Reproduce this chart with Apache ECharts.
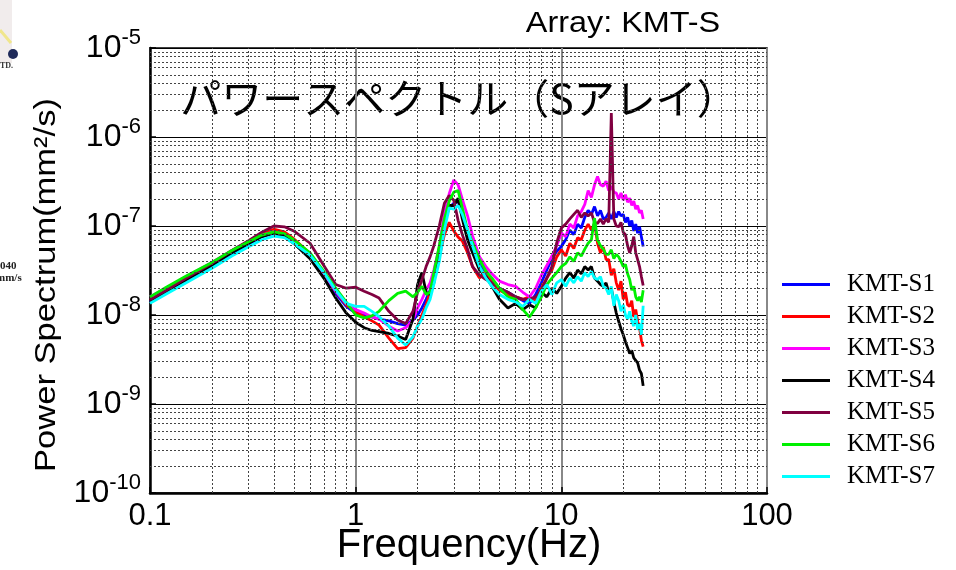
<!DOCTYPE html>
<html><head><meta charset="utf-8">
<script src="https://cdn.jsdelivr.net/npm/echarts@6/dist/echarts.min.js"></script>
<style>html,body{margin:0;padding:0;background:#fff}#c{width:956px;height:570px}</style>
</head><body><div id="c"></div>
<script>
// ---- data ----
const freq = [0.1,0.12,0.15,0.2,0.25,0.3,0.35,0.4,0.45,0.5,
  0.6,0.7,0.8,0.9,1.0,1.1,1.2,1.3,1.45,1.6,
  1.75,1.9,2.0,2.1,2.2,2.3,2.4,2.55,2.7,2.85,
  3.0,3.15,3.3,3.5,3.7,4.0,4.3,4.6,5.0,
  5.5,6.0,6.5,7.0,7.5,8.0,8.5,9.0,9.5,10,
  10.5,11,11.5,12,12.5,13,13.5,14,14.5,15,
  15.5,16,16.5,17,17.5,18,18.5,19,19.5,20,
  20.5,21,21.5,22,22.5,23,23.5,24,24.5,25];

const s1 = [1.4e-8,1.8e-8,2.4e-8,3.5e-8,4.9e-8,6.2e-8,7.6e-8,8.3e-8,7.6e-8,6.4e-8,
  4.5e-8,2.8e-8,1.75e-8,1.25e-8,1.05e-8,1.0e-8,9.5e-9,9.0e-9,8.6e-9,8.0e-9,
  7.7e-9,8.8e-9,1.0e-8,1.2e-8,1.5e-8,1.9e-8,2.8e-8,4.8e-8,1.1e-7,1.6e-7,
  1.8e-7,1.9e-7,1.3e-7,8.5e-8,6.0e-8,3.8e-8,3.0e-8,2.5e-8,2.0e-8,
  1.8e-8,1.6e-8,1.45e-8,1.35e-8,1.7e-8,2.3e-8,3.2e-8,4.3e-8,5.2e-8,5.9e-8,
  7.0e-8,9.0e-8,8.0e-8,1.05e-7,9.5e-8,1.25e-7,1.5e-7,1.35e-7,1.65e-7,1.3e-7,
  1.5e-7,1.2e-7,1.25e-7,1.4e-7,1.2e-7,1.45e-7,1.25e-7,1.45e-7,1.3e-7,1.35e-7,
  1.1e-7,1.25e-7,1.0e-7,1.15e-7,8.8e-8,1.05e-7,8.3e-8,9.8e-8,1.0e-7,5.9e-8];

const s2 = [1.45e-8,1.85e-8,2.5e-8,3.7e-8,5.2e-8,6.7e-8,8.2e-8,9.2e-8,8.6e-8,7.2e-8,
  4.9e-8,3.0e-8,1.85e-8,1.3e-8,1.1e-8,9.5e-9,8.6e-9,7.7e-9,5.5e-9,4.2e-9,
  4.3e-9,5.5e-9,7.5e-9,1.0e-8,1.3e-8,1.8e-8,2.5e-8,4.5e-8,8.0e-8,1.1e-7,
  8.8e-8,7.5e-8,6.8e-8,5.0e-8,3.5e-8,2.6e-8,3.2e-8,2.3e-8,1.9e-8,
  1.7e-8,1.6e-8,1.5e-8,1.6e-8,1.45e-8,2.0e-8,2.6e-8,3.2e-8,4.5e-8,5.4e-8,
  4.6e-8,6.4e-8,5.6e-8,7.4e-8,7.0e-8,9.0e-8,1.05e-7,9.0e-8,1.07e-7,6.4e-8,
  5.0e-8,5.8e-8,4.2e-8,4.2e-8,2.8e-8,3.3e-8,2.3e-8,1.9e-8,2.4e-8,1.5e-8,
  1.8e-8,1.3e-8,1.25e-8,1.45e-8,9.5e-9,1.15e-8,8.5e-9,7.2e-9,5.2e-9,4.4e-9];

const s3 = [1.6e-8,2.0e-8,2.7e-8,3.9e-8,5.3e-8,6.6e-8,7.9e-8,8.6e-8,8.0e-8,6.7e-8,
  4.6e-8,2.9e-8,1.85e-8,1.35e-8,1.15e-8,1.05e-8,9.5e-9,9.0e-9,7.5e-9,6.6e-9,
  7.2e-9,8.8e-9,1.2e-8,1.5e-8,1.9e-8,2.3e-8,3.2e-8,5.8e-8,1.4e-7,2.3e-7,
  3.3e-7,2.9e-7,2.0e-7,1.3e-7,7.8e-8,4.5e-8,3.5e-8,2.9e-8,2.4e-8,
  2.2e-8,2.1e-8,1.8e-8,1.6e-8,2.0e-8,2.8e-8,3.6e-8,4.6e-8,6.0e-8,8.3e-8,
  7.6e-8,1.05e-7,9.5e-8,1.3e-7,1.45e-7,1.75e-7,2.5e-7,2.1e-7,2.9e-7,3.6e-7,
  2.9e-7,2.8e-7,3.2e-7,2.5e-7,2.8e-7,2.4e-7,2.35e-7,2.0e-7,2.35e-7,1.95e-7,
  2.25e-7,1.85e-7,2.05e-7,1.7e-7,1.9e-7,1.55e-7,1.7e-7,1.4e-7,1.5e-7,1.2e-7];

const s4 = [1.45e-8,1.85e-8,2.5e-8,3.6e-8,5.0e-8,6.3e-8,7.6e-8,8.3e-8,7.7e-8,6.4e-8,
  4.3e-8,2.6e-8,1.55e-8,1.05e-8,8.3e-9,7.2e-9,6.7e-9,6.5e-9,6.2e-9,5.8e-9,
  5.3e-9,9.0e-9,2.2e-8,3.0e-8,1.8e-8,1.7e-8,2.3e-8,5.4e-8,1.1e-7,1.7e-7,
  1.7e-7,2.05e-7,1.2e-7,7.0e-8,5.0e-8,3.2e-8,2.7e-8,2.1e-8,1.5e-8,
  1.2e-8,1.35e-8,1.15e-8,1.3e-8,1.2e-8,1.8e-8,1.6e-8,2.0e-8,1.75e-8,2.1e-8,
  2.6e-8,3.0e-8,2.6e-8,3.2e-8,2.9e-8,3.5e-8,3.2e-8,3.5e-8,2.6e-8,2.4e-8,
  2.2e-8,2.1e-8,2.3e-8,1.8e-8,2.0e-8,1.4e-8,1.05e-8,8.5e-9,7.0e-9,6.0e-9,
  5.0e-9,4.3e-9,3.7e-9,4.0e-9,3.3e-9,3.2e-9,2.9e-9,2.4e-9,2.2e-9,1.6e-9];

const s5 = [1.48e-8,1.9e-8,2.6e-8,3.8e-8,5.3e-8,6.8e-8,8.5e-8,1.0e-7,9.8e-8,8.8e-8,
  6.4e-8,3.6e-8,2.2e-8,2.0e-8,2.05e-8,1.85e-8,1.7e-8,1.55e-8,1.1e-8,8.8e-9,
  8.0e-9,1.1e-8,1.8e-8,2.5e-8,3.5e-8,4.5e-8,6.0e-8,1.0e-7,1.8e-7,2.2e-7,
  1.95e-7,1.15e-7,8.0e-8,5.5e-8,3.5e-8,2.8e-8,2.5e-8,2.3e-8,2.0e-8,
  1.8e-8,1.6e-8,1.5e-8,1.5e-8,1.6e-8,1.9e-8,2.6e-8,3.5e-8,6.5e-8,9.5e-8,
  1.05e-7,1.2e-7,1.35e-7,1.5e-7,1.25e-7,1.4e-7,1.3e-7,1.4e-7,1.1e-7,1.07e-7,
  1.2e-7,1.05e-7,1.2e-7,1.1e-7,1.86e-6,1.2e-7,1.0e-7,9.8e-8,1.1e-7,8.5e-8,
  8.0e-8,6.0e-8,5.0e-8,6.0e-8,7.6e-8,5.0e-8,4.2e-8,3.5e-8,2.7e-8,2.15e-8];

const s6 = [1.6e-8,2.05e-8,2.75e-8,3.9e-8,5.3e-8,6.6e-8,7.9e-8,8.6e-8,8.2e-8,7.0e-8,
  5.0e-8,3.1e-8,2.0e-8,1.4e-8,1.0e-8,9.3e-9,9.8e-9,1.1e-8,1.45e-8,1.75e-8,
  1.85e-8,1.6e-8,1.8e-8,2.1e-8,1.7e-8,1.8e-8,3.0e-8,6.0e-8,1.2e-7,1.9e-7,
  2.4e-7,2.5e-7,1.6e-7,9.0e-8,6.5e-8,4.2e-8,3.1e-8,2.6e-8,2.0e-8,
  1.6e-8,1.5e-8,1.15e-8,9.5e-9,1.2e-8,1.6e-8,2.2e-8,2.6e-8,3.0e-8,3.5e-8,
  3.8e-8,4.5e-8,4.0e-8,5.0e-8,4.6e-8,5.5e-8,6.4e-8,7.0e-8,1.22e-7,7.0e-8,
  6.0e-8,5.5e-8,4.8e-8,4.8e-8,5.4e-8,4.3e-8,4.8e-8,4.5e-8,4.0e-8,3.5e-8,
  3.7e-8,2.9e-8,2.5e-8,1.9e-8,2.1e-8,1.6e-8,1.45e-8,1.6e-8,1.4e-8,1.9e-8];

const s7 = [1.35e-8,1.72e-8,2.3e-8,3.35e-8,4.6e-8,5.8e-8,7.0e-8,7.7e-8,7.4e-8,6.4e-8,
  4.7e-8,3.0e-8,1.9e-8,1.35e-8,1.25e-8,1.25e-8,1.1e-8,9.6e-9,7.5e-9,5.5e-9,
  4.6e-9,5.7e-9,7.5e-9,9.0e-9,1.2e-8,1.5e-8,2.2e-8,4.0e-8,9.0e-8,1.6e-7,
  1.55e-7,1.7e-7,1.35e-7,9.0e-8,6.0e-8,3.5e-8,2.6e-8,2.1e-8,1.7e-8,
  1.5e-8,1.4e-8,1.25e-8,1.5e-8,1.35e-8,1.85e-8,2.2e-8,1.7e-8,2.3e-8,2.5e-8,
  2.1e-8,2.6e-8,2.3e-8,2.7e-8,2.4e-8,3.0e-8,2.7e-8,3.1e-8,2.6e-8,2.5e-8,
  2.7e-8,2.1e-8,2.0e-8,1.7e-8,2.1e-8,1.27e-8,1.7e-8,1.45e-8,1.1e-8,1.3e-8,
  1.0e-8,9.0e-9,1.1e-8,8.5e-9,7.5e-9,1.0e-8,6.8e-9,8.0e-9,6.0e-9,1.27e-8];

const seriesNames = ['KMT-S1','KMT-S2','KMT-S3','KMT-S4','KMT-S5','KMT-S6','KMT-S7'];
const seriesValues = [s1, s2, s3, s4, s5, s6, s7];
const seriesColors = ['#0000ff','#ff0000','#ff00ff','#000000','#800040','#00f000','#00ffff'];
const xTickLabels = ['0.1','1','10','100'];
const yTickExponents = [-10,-9,-8,-7,-6,-5];
const xMinorDecades = [0.1, 1, 10];
const yMinorDecades = [1e-10, 1e-9, 1e-8, 1e-7, 1e-6];
const xRange = [0.1, 100];
const yRange = [1e-10, 1e-5];

// ---- chart ----
const xMinor = [], yMinor = [];
xMinorDecades.forEach(d => { for (let k = 2; k <= 9; k++) xMinor.push(Number((k * d).toPrecision(6))); });
yMinorDecades.forEach(d => { for (let k = 2; k <= 9; k++) yMinor.push(Number((k * d).toPrecision(6))); });

const sansFont = '"Liberation Sans", Arial, sans-serif';
const chart = echarts.init(document.getElementById('c'), null, {renderer: 'canvas'});

const series = seriesNames.map((name, i) => ({
  name, type: 'line', symbol: 'none', smooth: false,
  data: freq.map((f, j) => [f, seriesValues[i][j]]),
  lineStyle: {color: seriesColors[i], width: 2.8},
  itemStyle: {color: seriesColors[i]},
  emphasis: {disabled: true}, z: 3
}));
series.unshift({
  name: 'minorGrid', type: 'line', data: [], silent: true, z: 1,
  markLine: {
    silent: true, symbol: ['none', 'none'], animation: false,
    label: {show: false},
    lineStyle: {type: [2, 2], color: '#444', width: 1},
    emphasis: {disabled: true},
    data: xMinor.map(v => [{coord: [v, yRange[0]]}, {coord: [v, yRange[1]]}])
      .concat(yMinor.map(v => [{coord: [xRange[0], v]}, {coord: [xRange[1], v]}]))
  }
});

chart.setOption({
  animation: false,
  backgroundColor: '#fff',
  grid: {left: 150, right: 189, top: 48, bottom: 77, show: true, borderColor: '#000', borderWidth: 1.5, backgroundColor: 'transparent'},
  xAxis: {
    type: 'log', logBase: 10, min: xRange[0], max: xRange[1],
    axisLine: {show: true, onZero: false, lineStyle: {color: '#000', width: 2.5}},
    axisTick: {show: true, inside: true, length: 6, lineStyle: {color: '#000', width: 1.5}},
    splitLine: {show: true, lineStyle: {color: '#888', width: 2}},
    axisLabel: {
      margin: 8, color: '#000', fontFamily: sansFont, fontSize: 31,
      formatter: v => xTickLabels[Math.round(Math.log10(v)) + 1]
    }
  },
  yAxis: {
    type: 'log', logBase: 10, min: yRange[0], max: yRange[1],
    axisLine: {show: true, onZero: false, lineStyle: {color: '#000', width: 2.5}},
    axisTick: {show: true, inside: true, length: 6, lineStyle: {color: '#000', width: 1.5}},
    splitLine: {show: true, lineStyle: {color: '#000', width: 1}},
    axisLabel: {
      margin: 9, color: '#000',
      formatter: v => {
        const e = Math.round(Math.log10(v));
        return yTickExponents.indexOf(e) >= 0 ? '{b|10}{s|' + e + '}' : '';
      },
      rich: {
        b: {fontFamily: sansFont, fontSize: 32, lineHeight: 42, color: '#000'},
        s: {fontFamily: sansFont, fontSize: 22, lineHeight: 22, verticalAlign: 'top', color: '#000'}
      }
    }
  },
  legend: {
    orient: 'vertical', left: 782, top: 272, padding: 0, itemWidth: 48, itemHeight: 3, itemGap: 7,
    icon: 'rect', data: seriesNames, selectedMode: false,
    textStyle: {fontFamily: '"Liberation Serif", "Times New Roman", serif', fontSize: 25, lineHeight: 24, color: '#000', padding: [0, 0, 0, 12]}
  },
  graphic: [
    {type: 'rect', shape: {x: 0, y: 0, width: 12, height: 63}, style: {fill: '#f1ecec'}, silent: true},
    {type: 'line', shape: {x1: 0, y1: 30, x2: 11, y2: 43}, style: {stroke: '#f0e68c', lineWidth: 3}, silent: true},
    {type: 'circle', shape: {cx: 13, cy: 54, r: 5}, style: {fill: '#1f2a5a'}, silent: true},
    {type: 'text', x: 0, y: 66, style: {text: 'TD.', font: 'bold 8px "Liberation Serif"', fill: '#333', verticalAlign: 'middle'}, silent: true},
    {type: 'text', x: 0, y: 266, style: {text: '040', font: 'bold 11px "Liberation Serif"', fill: '#222', verticalAlign: 'middle'}, silent: true},
    {type: 'text', x: -4, y: 278, style: {text: 'mm/s', font: 'bold 11px "Liberation Serif"', fill: '#222', verticalAlign: 'middle'}, silent: true},
    {type: 'text', x: 459, y: 98, style: {text: 'パワースペクトル（Sアレイ）', font: '41px "Noto Sans CJK JP"', fill: '#000', align: 'center', verticalAlign: 'middle'}, silent: true},
    {type: 'text', x: 623, y: 24, scaleX: 1.08, style: {text: 'Array: KMT-S', font: '30px ' + sansFont, fill: '#000', align: 'center', verticalAlign: 'middle'}, silent: true},
    {type: 'text', x: 469, y: 546, style: {text: 'Frequency(Hz)', font: '40px ' + sansFont, fill: '#000', align: 'center', verticalAlign: 'middle'}, silent: true},
    {type: 'text', x: 47, y: 285, rotation: Math.PI / 2, scaleX: 1.15, style: {text: 'Power Spectrum(mm²/s)', font: '30px ' + sansFont, fill: '#000', align: 'center', verticalAlign: 'middle'}, silent: true}
  ],
  series
});
</script>
</body></html>
